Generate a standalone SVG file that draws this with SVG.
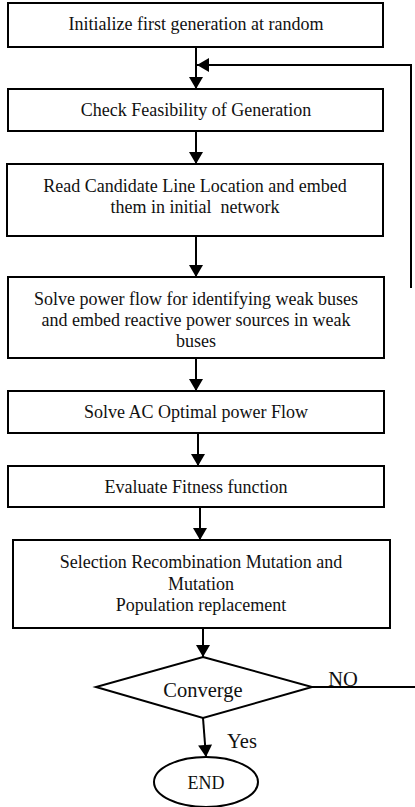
<svg xmlns="http://www.w3.org/2000/svg" width="415" height="807" viewBox="0 0 415 807">
<defs>
<marker id="ah" viewBox="0 0 12 14" refX="12" refY="7" markerWidth="16" markerHeight="14" markerUnits="userSpaceOnUse" orient="auto">
<path d="M0,0 L12,7 L0,14 Z" fill="#000"/>
</marker>
<style>
.box{fill:#fff;stroke:#000;stroke-width:2}
.t{font-family:'Liberation Serif','DejaVu Serif',serif;font-size:18px;fill:#111;text-anchor:middle}
.l{font-size:20.5px}
.c{fill:none;stroke:#000;stroke-width:2}
</style>
</defs>
<g id="connectors">
<line class="c" x1="196" y1="47" x2="196" y2="89" marker-end="url(#ah)"/>
<polyline class="c" points="411,288 411,65 197,65" marker-end="url(#ah)"/>
<line class="c" x1="196" y1="131" x2="196" y2="164" marker-end="url(#ah)"/>
<line class="c" x1="196" y1="236" x2="196" y2="277" marker-end="url(#ah)"/>
<line class="c" x1="196" y1="358" x2="196" y2="391" marker-end="url(#ah)"/>
<line class="c" x1="198" y1="433" x2="198" y2="466" marker-end="url(#ah)"/>
<line class="c" x1="200" y1="507" x2="200" y2="540" marker-end="url(#ah)"/>
<line class="c" x1="203" y1="628" x2="203" y2="657" marker-end="url(#ah)"/>
<line class="c" x1="312" y1="687" x2="415" y2="687"/>
<line class="c" x1="203" y1="718" x2="206" y2="757" marker-end="url(#ah)"/>
<text class="t l" x="343" y="686" font-family="Liberation Serif, serif">NO</text>
<text class="t l" x="242" y="748" font-family="Liberation Serif, serif">Yes</text>
</g>
<g id="n1">
<rect class="box" x="8" y="3" width="375" height="44"/>
<text class="t" x="196" y="30" font-family="Liberation Serif, serif">Initialize first generation at random</text>
</g>
<g id="n2">
<rect class="box" x="8" y="89" width="375" height="42"/>
<text class="t" x="196" y="116" font-family="Liberation Serif, serif">Check Feasibility of Generation</text>
</g>
<g id="n3">
<rect class="box" x="7" y="164" width="376" height="72"/>
<text class="t" x="195" y="192" font-family="Liberation Serif, serif">Read Candidate Line Location and embed</text>
<text class="t" x="195" y="213" font-family="Liberation Serif, serif" xml:space="preserve">them in initial  network</text>
</g>
<g id="n4">
<rect class="box" x="8" y="277" width="376" height="81"/>
<text class="t" x="196" y="305" font-family="Liberation Serif, serif">Solve power flow for identifying weak buses</text>
<text class="t" x="196" y="326" font-family="Liberation Serif, serif">and embed reactive power sources in weak</text>
<text class="t" x="196" y="347" font-family="Liberation Serif, serif">buses</text>
</g>
<g id="n5">
<rect class="box" x="8" y="391" width="376" height="42"/>
<text class="t" x="196" y="418" font-family="Liberation Serif, serif">Solve AC Optimal power Flow</text>
</g>
<g id="n6">
<rect class="box" x="8" y="466" width="376" height="41"/>
<text class="t" x="196" y="493" font-family="Liberation Serif, serif">Evaluate Fitness function</text>
</g>
<g id="n7">
<rect class="box" x="13" y="540" width="377" height="88"/>
<text class="t" x="201" y="568" font-family="Liberation Serif, serif">Selection Recombination Mutation and</text>
<text class="t" x="201" y="590" font-family="Liberation Serif, serif">Mutation</text>
<text class="t" x="201" y="611" font-family="Liberation Serif, serif">Population replacement</text>
</g>
<g id="n8">
<polygon class="box" points="203,657 312,687 203,718 96,687"/>
<text class="t l" x="203" y="697" font-family="Liberation Serif, serif">Converge</text>
</g>
<g id="n9">
<ellipse class="box" cx="206" cy="782" rx="52" ry="25"/>
<text class="t" x="206" y="789" font-family="Liberation Serif, serif">END</text>
</g>
</svg>
